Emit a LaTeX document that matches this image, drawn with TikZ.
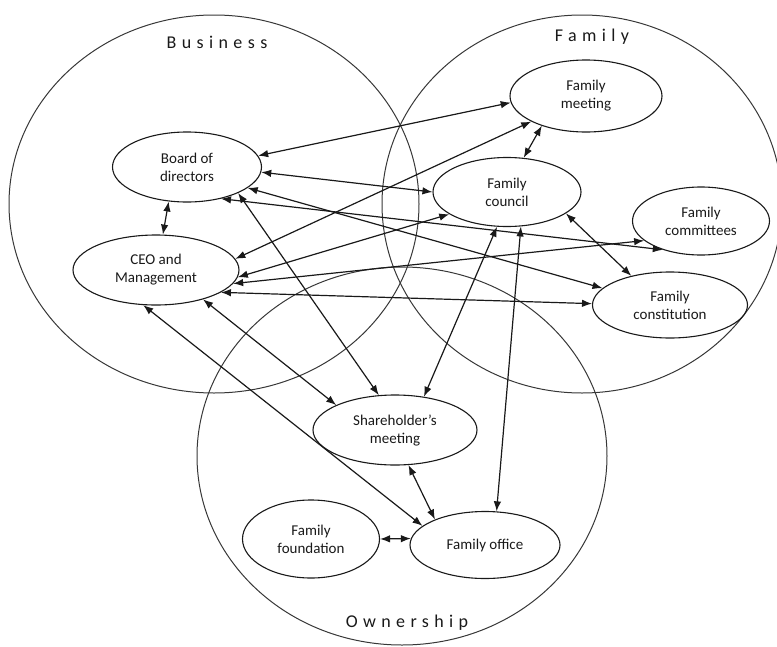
\documentclass[tikz,border=0pt]{standalone}
\usepackage{fontspec}
\setmainfont{Carlito}
\newfontfamily\spacedfont[LetterSpace=30]{Carlito}
\usetikzlibrary{shapes.geometric,arrows.meta}
\definecolor{ink}{RGB}{25,25,25}
\definecolor{ringc}{RGB}{55,55,55}
\begin{document}
\begin{tikzpicture}[x=1pt,y=-1pt,
  bubble/.style={ellipse, draw=ink, line width=1.1pt, align=center, inner sep=0pt,
    font=\fontsize{15}{18}\selectfont, text=ink},
  link/.style={draw=ink, line width=1.2pt,
    {Latex[length=10pt,width=7.5pt]}-{Latex[length=10pt,width=7.5pt]}},
  ring/.style={draw=ringc, line width=1pt},
  title/.style={font=\spacedfont\fontsize{18}{20}\selectfont, text=ink, inner sep=0pt}]
\useasboundingbox (0,0) rectangle (777,646);
% the three spheres
\draw[ring] (214,204) ellipse [x radius=205, y radius=189];
\draw[ring] (582,204) ellipse [x radius=200, y radius=189];
\draw[ring] (402,456) ellipse [x radius=205, y radius=189];
\node[title] (tbus) at (217,42) {Business};
\node[title] (tfam) at (592,37) {Family};
\node[title] (town) at (407,623) {Ownership};
% nodes
\node[bubble, minimum width=149pt, minimum height=70pt] (board) at (187,167) {Board of\\directors};
\node[bubble, minimum width=166pt, minimum height=70pt] (ceo) at (156,270) {CEO and\\Management};
\node[bubble, minimum width=152pt, minimum height=72pt] (fmeet) at (586,96) {Family\\meeting};
\node[bubble, minimum width=148pt, minimum height=69pt] (fcouncil) at (507,192) {Family\\council};
\node[bubble, minimum width=137pt, minimum height=68pt] (fcomm) at (701,221) {Family\\committees};
\node[bubble, minimum width=155pt, minimum height=66pt] (fconst) at (670,305) {Family\\constitution};
\node[bubble, minimum width=164pt, minimum height=70pt] (share) at (395,430) {Shareholder’s\\meeting};
\node[bubble, minimum width=137pt, minimum height=78pt] (ffound) at (311,539) {Family\\foundation};
\node[bubble, minimum width=150pt, minimum height=67pt] (foffice) at (485,545) {Family office};
% connectors
\draw[link] (board.9) -- (fmeet.185);
\draw[link] (board.356) -- (fcouncil.180);
\draw[link] (board.341) -- (fconst.166);
\draw[link] (board.333) -- (share.115);
\draw[link] (board.317) -- (fcomm.217);
\draw[link] (board.242) -- (ceo.79);
\draw[link] (ceo.8) -- (fmeet.205);
\draw[link] (ceo.355) -- (fcouncil.201);
\draw[link] (ceo.350) -- (fcomm.199);
\draw[link] (ceo.341) -- (fconst.179);
\draw[link] (ceo.250) -- (foffice.163);
\draw[link] (ceo.328) -- (share.157);
\draw[link] (fmeet.214) -- (fcouncil.64);
\draw[link] (fcouncil.340) -- (fconst.143);
\draw[link] (fcouncil.254) -- (share.49);
\draw[link] (fcouncil.292) -- (foffice.71);
\draw[link] (share.291) -- (foffice.153);
\draw[link] (ffound.0) -- (foffice.175);
\end{tikzpicture}
\end{document}
